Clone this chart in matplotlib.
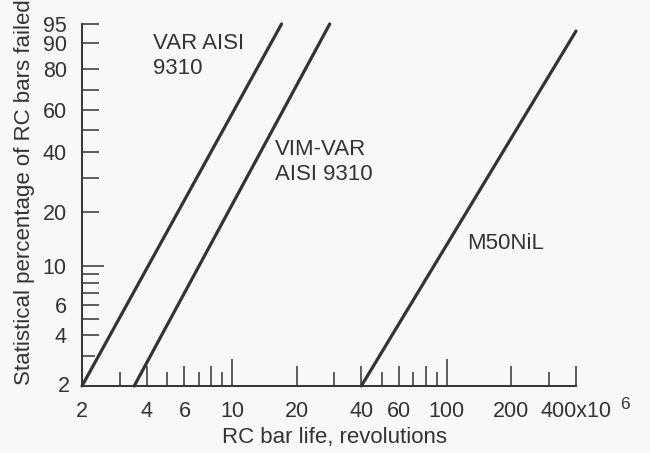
import matplotlib
matplotlib.use("Agg")
import matplotlib.pyplot as plt
import numpy as np

plt.rcParams["font.family"] = ["Liberation Sans", "DejaVu Sans"]
INK = "#333333"
BG = "#f8f8f8"

# data: Weibull lines (life in millions of revolutions, percent failed)
var_life = [2.0, 17.0]
var_pct = [2.0, 95.0]
vimvar_life = [3.5, 28.5]
vimvar_pct = [2.0, 95.0]
m50_life = [40.0, 400.0]
m50_pct = [2.0, 93.4]

xtick_vals = [2, 3, 4, 5, 6, 7, 8, 9, 10, 20, 30, 40, 50, 60, 70, 80, 90, 100, 200, 300, 400]
xtick_labels = ["2", "", "4", "", "6", "", "", "", "10", "20", "", "40", "", "60", "", "",
                "", "100", "200", "", "400x10"]
ytick_vals = [3, 4, 5, 6, 7, 8, 9, 10, 20, 30, 40, 50, 60, 70, 80, 90, 95]
ytick_labels = ["", "4", "", "6", "", "", "", "10", "20", "", "40", "", "60", "", "80", "90", "95"]


def fwd(p):
    p = np.clip(np.asarray(p, dtype=float), 1e-6, 99.9999)
    return np.log(-np.log(1 - p / 100.0))


def inv(w):
    return 100.0 * (1 - np.exp(-np.exp(w)))


W, H = 650, 453
fig = plt.figure(figsize=(6.5, 4.53), dpi=100, facecolor=BG)
ax = fig.add_axes([82 / W, 1 - 386 / H, (576 - 82) / W, (386 - 24) / H])
ax.set_facecolor(BG)
ax.set_xscale("log")
ax.set_yscale("function", functions=(fwd, inv))
ax.set_xlim(2, 400)
ax.set_ylim(2, 95)

for life, pct in [(var_life, var_pct), (vimvar_life, vimvar_pct), (m50_life, m50_pct)]:
    ax.plot(life, pct, color=INK, lw=2.3, solid_capstyle="round", clip_on=False)

ax.set_xticks(xtick_vals, xtick_labels)
ax.set_yticks(ytick_vals, ytick_labels)
ax.xaxis.set_minor_locator(matplotlib.ticker.NullLocator())
ax.yaxis.set_minor_locator(matplotlib.ticker.NullLocator())
ax.tick_params(direction="in", width=1.1, color=INK, labelcolor=INK, labelsize=15.5)
ax.tick_params(axis="x", pad=11)
ax.tick_params(axis="y", pad=11)

# tick lengths in pixels -> points
for t, v in zip(ax.xaxis.get_major_ticks(), xtick_vals):
    if v in (10, 100):
        px = 27
    elif v == 2:
        px = 0
    elif v in (4, 6, 8, 20, 40, 60, 80, 200, 400):
        px = 20
    else:
        px = 14
    t.tick1line.set_markersize(px * 0.72)
for t, v in zip(ax.yaxis.get_major_ticks(), ytick_vals):
    px = 22 if v == 10 else (13 if v == 3 else 17)
    t.tick1line.set_markersize(px * 0.72)

# "2" at the shared corner for the y axis
ax.text(-12 / (576 - 82), 0, "2", transform=ax.transAxes, ha="right", va="center",
        fontsize=15.5, color=INK)

for s in ("top", "right"):
    ax.spines[s].set_visible(False)
for s in ("left", "bottom"):
    ax.spines[s].set_linewidth(1.4)
    ax.spines[s].set_color(INK)

ax.annotate("6", xy=(400, 0), xycoords=("data", "axes fraction"), xytext=(35, -8),
            textcoords="offset points", ha="center", va="top", fontsize=12.5, color=INK)

fig.text(335 / W, 1 - 438 / H, "RC bar life, revolutions", ha="center", va="center",
         fontsize=16, color=INK)
fig.text(25 / W, 1 - 192 / H, "Statistical percentage of RC bars failed", rotation=90,
         ha="center", va="center", fontsize=16, color=INK)

fig.text(153 / W, 1 - 33 / H, "VAR AISI", ha="left", va="top", fontsize=16, color=INK)
fig.text(153 / W, 1 - 58 / H, "9310", ha="left", va="top", fontsize=16, color=INK)
fig.text(275 / W, 1 - 139 / H, "VIM-VAR", ha="left", va="top", fontsize=16, color=INK)
fig.text(275 / W, 1 - 164 / H, "AISI 9310", ha="left", va="top", fontsize=16, color=INK)
fig.text(467 / W, 1 - 233 / H, "M50NiL", ha="left", va="top", fontsize=16, color=INK)

fig.savefig("out.png", dpi=100, facecolor=BG)
